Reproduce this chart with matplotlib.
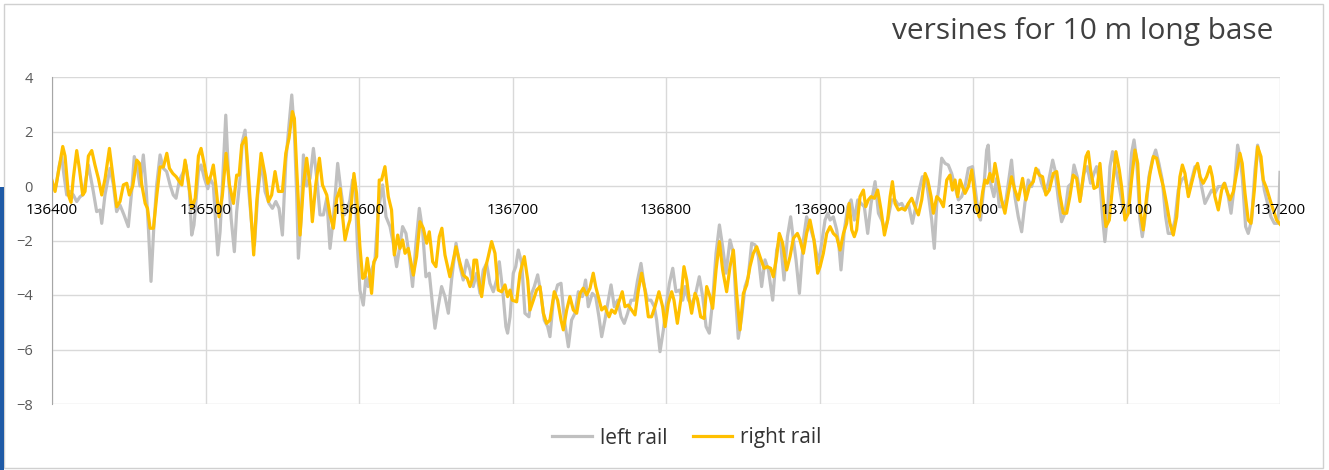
import numpy as np
import matplotlib.pyplot as plt
from matplotlib.patches import Rectangle

plt.rcParams['font.family'] = ['Open Sans', 'DejaVu Sans']

# positions are metres after km 136.000, values are versines in mm
left_pos = [400.0, 402.6, 404.8, 406.3, 407.8, 409.6, 411.7, 413.9, 416.1, 418.2, 420.4, 423.7, 426.9,
            429.1, 431.3, 432.4, 434.5, 437.8, 440.0, 442.1, 444.3, 446.9, 449.7, 451.9, 453.6, 455.6,
            457.3, 459.5, 461.2, 462.8, 464.5, 466.4, 468.2, 470.4, 472.5, 474.7, 476.9, 479.0, 480.8,
            483.0, 485.1, 487.3, 489.5, 491.0, 492.5, 495.4, 497.1, 499.3, 501.5, 503.0, 505.1, 508.0,
            509.5, 511.0, 513.2, 514.9, 516.7, 518.8, 520.3, 522.5, 524.0, 525.8, 527.9, 530.1, 531.9,
            534.0, 536.6, 538.8, 541.4, 543.6, 545.8, 547.9, 550.1, 552.3, 554.4, 556.2, 557.9, 559.4,
            560.5, 562.3, 563.8, 565.9, 568.1, 570.3, 572.5, 574.6, 576.8, 579.0, 581.1, 583.3, 586.1,
            588.3, 590.5, 592.7, 594.1, 595.8, 597.4, 598.9, 600.6, 602.8, 604.5, 606.0, 608.2, 610.4,
            612.6, 615.4, 617.6, 620.2, 622.3, 624.5, 626.2, 628.4, 630.6, 632.8, 634.9, 637.1, 639.3,
            641.4, 643.6, 645.8, 648.0, 649.5, 651.6, 653.8, 656.0, 658.2, 660.3, 663.2, 665.8, 667.9,
            670.1, 672.3, 674.4, 676.6, 678.8, 681.0, 683.1, 685.3, 687.5, 689.6, 691.4, 693.6, 695.7,
            696.8, 698.4, 700.5, 702.1, 703.8, 706.0, 708.1, 710.7, 712.5, 714.2, 716.4, 718.5, 720.7,
            722.9, 724.4, 726.6, 729.4, 731.6, 733.8, 736.4, 738.5, 740.7, 742.9, 745.5, 747.6, 749.4,
            752.0, 754.2, 756.3, 758.1, 760.2, 762.4, 764.2, 766.3, 768.5, 770.7, 772.8, 775.0, 777.2,
            779.4, 781.5, 783.7, 785.9, 788.0, 790.2, 792.4, 793.9, 796.1, 798.3, 800.0, 802.2, 804.4,
            806.5, 808.7, 810.9, 812.4, 814.6, 816.7, 818.9, 821.7, 823.9, 826.1, 828.2, 830.4, 832.6,
            834.8, 836.9, 839.1, 841.7, 843.9, 845.6, 847.1, 849.3, 851.5, 853.6, 855.8, 858.0, 860.2,
            862.3, 864.5, 866.7, 869.5, 872.1, 874.3, 876.9, 879.1, 881.2, 883.0, 884.7, 886.9, 889.5,
            891.6, 893.8, 896.4, 899.3, 901.4, 903.6, 905.4, 906.9, 909.0, 911.2, 912.7, 914.0, 916.2,
            918.4, 920.6, 922.7, 924.9, 927.1, 929.2, 931.4, 933.6, 936.2, 938.4, 940.5, 942.7, 944.9,
            947.0, 949.2, 951.4, 953.6, 955.7, 957.9, 960.5, 962.7, 964.9, 967.0, 969.2, 971.4, 973.1,
            974.8, 976.4, 977.9, 979.6, 981.8, 983.9, 986.1, 988.3, 990.5, 992.6, 994.8, 997.0, 999.7,
            1001.3, 1003.4, 1004.9, 1007.1, 1008.9, 1009.9, 1011.5, 1013.6, 1015.4, 1017.1, 1019.3,
            1021.5, 1023.6, 1025.1, 1027.3, 1029.5, 1031.7, 1033.8, 1036.0, 1038.2, 1040.3, 1042.5,
            1044.7, 1046.9, 1049.0, 1051.9, 1053.4, 1055.5, 1057.7, 1059.9, 1062.1, 1064.2, 1065.8,
            1067.9, 1070.1, 1072.3, 1074.4, 1076.6, 1078.8, 1080.5, 1082.7, 1084.4, 1085.9, 1087.5,
            1089.2, 1090.9, 1093.1, 1095.3, 1097.5, 1099.0, 1101.2, 1103.3, 1104.9, 1106.6, 1108.8,
            1110.3, 1112.5, 1114.6, 1116.8, 1119.0, 1121.1, 1123.3, 1125.5, 1127.2, 1129.4, 1131.6,
            1133.7, 1135.9, 1138.1, 1140.3, 1142.4, 1144.6, 1146.8, 1148.9, 1151.1, 1153.3, 1155.5,
            1157.6, 1159.8, 1162.0, 1164.1, 1166.3, 1168.1, 1170.2, 1172.4, 1173.9, 1175.4, 1177.6,
            1179.3, 1181.5, 1183.7, 1185.4, 1187.6, 1189.8, 1191.9, 1194.1, 1196.3, 1198.5, 1199.3,
            1200.0]
left_val = [-0.1, 0.0, 0.77, 1.08, 0.4, -0.33, -0.2, -0.33, -0.57, -0.4, -0.3, 0.77, -0.2,
            -0.94, -0.88, -1.37, -0.33, 0.65, 0.04, -0.94, -0.7, -1.06, -1.49, -0.2, 1.08, 0.65,
            0.0, 1.14, 0.04, -1.55, -3.5, -1.43, 0.04, 1.14, 0.65, 0.53, 0.04, -0.33, -0.45,
            0.22, 0.46, 0.77, -0.2, -1.8, -1.43, 0.53, 0.77, 0.28, -0.1, 0.28, 0.04, -2.53,
            -1.68, 0.0, 2.6, 0.53, -1.19, -2.41, -0.94, 0.28, 1.63, 2.05, 0.0, -1.43, -2.17,
            -0.33, 0.95, -0.2, -0.64, -0.82, -0.57, -0.82, -1.8, 0.9, 2.24, 3.34, 2.0, -0.33,
            -2.65, -1.19, 1.14, 0.0, 0.28, 1.38, 0.28, -1.06, -1.06, -0.45, -2.29, -1.19, 0.83,
            -0.2, -1.06, -0.82, -0.51, 0.22, 0.1, -2.1, -3.82, -4.37, -3.33, -3.69, -3.08, -2.72,
            -0.88, 0.04, -1.13, -1.49, -2.1, -2.96, -2.35, -1.49, -1.74, -2.59, -3.69, -2.1, -0.82,
            -1.61, -3.33, -3.2, -4.43, -5.22, -4.43, -3.69, -4.06, -4.67, -3.45, -2.1, -2.96, -3.45,
            -2.72, -3.08, -3.69, -3.2, -3.94, -3.08, -2.84, -3.57, -3.88, -3.45, -2.78, -3.82, -5.16,
            -5.4, -4.8, -3.2, -2.96, -2.35, -2.84, -4.67, -4.8, -3.94, -3.69, -3.26, -3.94, -4.92,
            -5.16, -5.53, -4.19, -3.63, -3.57, -4.92, -5.9, -4.92, -4.67, -3.88, -4.06, -3.45, -4.43,
            -3.94, -4.06, -4.8, -5.53, -4.92, -4.19, -3.63, -4.43, -4.19, -4.8, -5.04, -4.67, -4.19,
            -4.19, -3.45, -2.84, -3.69, -4.19, -4.19, -4.43, -4.92, -6.08, -5.28, -4.43, -3.57, -3.02,
            -3.88, -3.82, -4.19, -3.69, -4.19, -4.31, -4.06, -3.33, -4.06, -5.16, -5.4, -4.19, -2.47,
            -1.43, -2.23, -3.2, -1.98, -2.47, -4.31, -5.59, -4.8, -3.69, -3.33, -2.1, -2.16, -2.59,
            -3.69, -2.71, -3.08, -4.19, -2.35, -1.86, -3.45, -1.86, -1.13, -1.98, -2.71, -3.94, -1.98,
            -1.13, -1.49, -1.98, -2.84, -2.1, -1.25, -1.0, -1.25, -1.13, -1.61, -2.23, -3.08, -1.61,
            -0.76, -0.51, -1.25, -0.51, -0.64, -0.76, -1.74, -0.64, 0.16, -1.0, -1.25, -1.61, -1.13,
            -0.51, -0.51, -0.7, -0.64, -0.88, -0.64, -1.37, -0.76, -0.15, 0.34, 0.34, -0.51, -1.25,
            -2.29, -0.64, -0.02, 1.02, 0.83, 0.77, 0.46, -0.02, -0.51, -0.39, -0.02, 0.65, 0.71,
            -0.02, -1.0, -1.25, -0.02, 1.32, 1.5, 0.1, -0.39, 0.28, -0.76, -0.76,
            -0.51, 0.34, 0.95, -0.39, -1.13, -1.68, -0.64, 0.22, -0.02, 0.46, 0.59,
            0.1, -0.21, 0.1, 0.95, 0.59, -0.45, -1.31, -1.0, -0.02, 0.1, 0.77,
            0.34, -0.39, 0.46, 0.71, 0.1, 0.46, 0.71, 0.1, -1.13, -2.04, -1.13,
            0.71, 1.26, 0.59, -0.02, -0.76, -1.13, -0.64, 1.2, 1.69, 0.95, -1.25,
            -1.86, -1.0, 0.34, 0.95, 1.32, 0.83, 0.22, -1.13, -1.74, -1.74, -1.25,
            -0.15, 0.22, 0.34, -0.27, 0.22, 0.71, 0.71, -0.02, -0.64, -0.39, -0.15,
            -0.27, -0.02, -0.02, 0.1, -0.39, -1.0, -0.02, 1.5, 1.08, 0.34, -1.49,
            -1.74, -1.25, 0.59, 1.5, 0.83, -0.15, -0.64, -1.13, -1.37, -1.37, -0.8,
            0.5]

right_pos = [400.0, 402.0, 404.1, 407.0, 408.5, 410.7, 412.4, 413.9, 416.1, 417.8, 420.0, 421.5,
             423.7, 425.9, 428.0, 430.2, 432.4, 434.6, 437.4, 439.6, 442.2, 444.3, 446.5, 448.7,
             450.4, 452.6, 455.2, 457.0, 458.5, 460.7, 462.2, 463.9, 466.1, 468.3, 470.4, 472.6,
             474.8, 476.5, 478.7, 480.9, 483.0, 484.6, 486.7, 488.9, 491.1, 493.3, 495.4, 497.1,
             499.3, 501.5, 503.6, 505.1, 506.7, 508.8, 511.0, 513.4, 515.6, 518.2, 520.3, 521.9,
             523.6, 526.2, 528.4, 530.1, 531.4, 533.4, 536.2, 538.8, 541.0, 543.1, 545.3, 547.5,
             550.1, 552.3, 554.4, 556.6, 557.9, 559.4, 561.6, 563.8, 565.9, 568.1, 569.6, 571.8,
             574.2, 576.2, 579.0, 581.1, 583.3, 585.5, 587.7, 589.2, 590.9, 593.1, 594.1, 596.7,
             598.4, 600.6, 602.4, 603.9, 605.4, 606.7, 608.2, 609.7, 611.5, 613.2, 614.7, 616.9,
             619.1, 621.2, 623.0, 625.2, 626.7, 628.4, 630.0, 632.1, 635.4, 637.5, 639.7, 641.9,
             644.1, 645.8, 648.0, 650.1, 652.3, 654.0, 656.0, 659.2, 661.4, 663.2, 665.3, 667.9,
             670.5, 672.3, 674.0, 674.9, 676.6, 678.4, 679.9, 682.1, 684.2, 686.4, 688.6, 690.7,
             692.9, 695.1, 696.8, 698.4, 699.9, 702.7, 704.9, 707.7, 709.9, 711.4, 713.6, 715.7,
             717.9, 720.1, 722.2, 724.4, 727.2, 729.4, 731.6, 733.1, 735.3, 737.4, 739.6, 741.8,
             744.0, 746.1, 748.3, 750.5, 752.6, 754.2, 755.9, 758.1, 760.2, 762.9, 764.6, 766.8,
             769.0, 771.5, 773.3, 775.4, 777.6, 779.8, 782.0, 784.1, 786.3, 788.5, 790.6, 792.8,
             795.4, 797.8, 799.4, 801.5, 803.7, 805.2, 807.4, 809.6, 811.7, 813.5, 815.2, 816.7,
             818.9, 820.4, 822.6, 824.8, 826.5, 828.7, 830.4, 832.6, 834.8, 836.9, 839.5, 841.7,
             843.9, 846.0, 848.2, 850.4, 852.6, 854.7, 856.9, 859.1, 861.2, 863.9, 866.0, 868.2,
             869.9, 872.1, 873.8, 876.0, 878.6, 880.8, 883.0, 885.6, 887.3, 889.5, 891.6, 893.8,
             896.4, 898.8, 900.4, 902.5, 904.7, 906.9, 909.0, 911.2, 913.4, 915.6, 917.7, 919.3,
             921.0, 922.7, 924.2, 926.4, 928.6, 930.1, 931.8, 933.6, 935.8, 937.9, 940.1, 942.3,
             944.4, 946.0, 947.5, 949.2, 951.4, 953.6, 955.7, 957.9, 960.1, 962.2, 964.4, 966.6,
             968.8, 970.5, 972.7, 974.2, 976.4, 978.5, 980.7, 982.9, 985.0, 986.6, 988.3, 990.0,
             991.6, 993.1, 994.8, 997.0, 999.2, 1001.9, 1004.1, 1006.3, 1007.8, 1009.3, 1011.0,
             1012.8, 1014.3, 1016.5, 1018.6, 1020.8, 1023.0, 1025.1, 1027.3, 1029.5, 1032.3,
             1034.5, 1036.7, 1039.3, 1041.0, 1043.2, 1045.3, 1047.5, 1049.7, 1052.3, 1054.5,
             1056.6, 1058.8, 1061.0, 1063.1, 1065.3, 1067.5, 1069.7, 1071.8, 1073.6, 1075.1,
             1076.6, 1078.8, 1081.0, 1082.7, 1084.4, 1086.6, 1088.8, 1090.9, 1093.1, 1095.3,
             1096.8, 1099.0, 1101.2, 1103.3, 1105.5, 1107.3, 1108.8, 1110.9, 1113.1, 1115.3,
             1117.5, 1119.6, 1121.8, 1124.0, 1126.1, 1128.3, 1130.5, 1132.7, 1134.8, 1136.4,
             1138.1, 1140.3, 1142.4, 1144.6, 1146.3, 1147.9, 1150.0, 1152.2, 1154.4, 1155.9,
             1157.6, 1159.8, 1162.0, 1163.7, 1165.2, 1167.4, 1169.6, 1171.7, 1173.9, 1175.4,
             1177.2, 1179.3, 1181.1, 1183.3, 1185.4, 1187.6, 1189.1, 1191.3, 1193.5, 1195.6,
             1197.8, 1200.0]
right_val = [0.2, -0.2, 0.5, 1.45, 1.1, -0.33, -0.6, 0.3, 1.3, 0.65, -0.33, -0.2,
             1.1, 1.3, 0.77, 0.28, -0.33, 0.28, 1.38, 0.4, -0.76, -0.57, 0.04, 0.1,
             -0.33, 0.0, 0.95, 0.83, 0.04, -0.64, -0.82, -1.55, -1.55, -0.33, 0.7, 0.7,
             1.2, 0.65, 0.46, 0.34, 0.16, 0.04, 0.95, 0.16, -0.82, -0.45, 1.1, 1.38,
             0.77, 0.1, 0.4, 0.77, 0.04, -1.13, -0.33, 1.2, 0.04, -0.64, 0.4, 0.4,
             1.5, 1.77, 0.04, -1.43, -2.53, -0.57, 1.2, 0.4, -0.57, -0.33, 0.53, -0.2,
             -0.2, 1.2, 1.75, 2.73, 2.48, 0.65, -1.8, 0.04, 1.02, 0.0, -1.31, 0.04,
             1.02, 0.04, -0.33, -1.06, -1.55, -0.45, -0.1, -1.06, -1.98, -1.43, -1.25, 0.46,
             -0.27, -2.23, -3.39, -3.33, -2.65, -3.2, -3.94, -2.78, -2.59, 0.22, 0.22, 0.71,
             -0.39, -0.88, -2.53, -1.8, -2.29, -1.98, -2.47, -2.29, -3.27, -2.59, -1.31, -1.55,
             -2.1, -1.68, -2.78, -2.96, -1.86, -1.55, -2.53, -3.33, -2.72, -2.23, -2.72, -3.27,
             -3.39, -3.69, -3.39, -2.72, -2.72, -3.57, -4.06, -3.08, -2.59, -2.04, -2.47, -3.82,
             -3.88, -3.63, -4.06, -3.82, -4.19, -4.25, -3.2, -2.59, -3.45, -4.55, -4.19, -3.82,
             -3.69, -4.67, -5.04, -4.92, -3.88, -4.19, -4.92, -5.28, -4.55, -4.06, -4.55, -4.67,
             -3.94, -3.75, -4.0, -3.75, -3.2, -3.69, -4.06, -4.55, -4.43, -4.8, -4.55, -4.67,
             -4.31, -3.88, -4.43, -4.37, -4.55, -4.73, -3.82, -3.2, -3.82, -4.8, -4.8, -4.43,
             -3.88, -4.43, -5.16, -4.31, -3.88, -4.19, -5.04, -4.19, -2.96, -3.45, -4.19, -4.67,
             -3.94, -4.13, -4.8, -4.86, -3.69, -4.06, -4.49, -3.08, -2.04, -3.08, -3.88, -2.96,
             -2.35, -3.94, -5.28, -3.94, -3.63, -2.96, -2.47, -2.23, -2.59, -3.02, -2.96, -3.02,
             -3.33, -2.59, -1.74, -2.1, -3.08, -2.59, -1.92, -1.74, -1.98, -2.47, -1.74, -1.25,
             -1.98, -3.2, -2.96, -2.47, -1.74, -1.49, -1.74, -1.86, -2.35, -1.74, -1.37, -0.64,
             -1.61, -1.86, -1.61, -0.39, -0.15, -0.76, -0.51, -0.39, -0.45, -0.15, -0.88, -1.8,
             -1.25, -0.39, 0.16, -0.64, -0.88, -0.82, -0.88, -0.64, -0.45, -0.76, -1.06, -0.51,
             0.46, 0.22, -0.39, -1.0, -0.39, -0.51, -0.76, 0.22, 0.4, -0.15, 0.22, -0.39,
             0.22, -0.02, -0.27, -0.02, 0.59, -0.76, -1.13, -0.21, 0.22, 0.1, 0.46,
             0.16, 0.83, 0.16, -0.51, -1.0, -0.27, 0.34, -0.15, -0.51, 0.28,
             -0.51, -0.02, 0.16, 0.65, 0.4, 0.34, -0.33, -0.15, 0.46, 0.53,
             -0.33, -1.0, -1.0, -0.39, 0.4, 0.28, -0.57, 0.34, 1.08, 1.26,
             0.59, -0.09, -0.02, 0.83, -0.27, -1.49, -1.25, -0.02, 1.26, 0.59,
             -0.02, -1.25, -1.0, 0.22, 1.32, 0.83, -0.88, -1.61, -0.39, 0.46,
             1.08, 1.02, 0.46, -0.02, -0.64, -1.37, -1.8, -1.13, 0.34, 0.77,
             0.46, -0.39, 0.1, 0.59, 0.83, 0.34, 0.1, 0.34, 0.71, 0.34,
             -0.39, -0.88, -0.15, 0.1, -0.15, -0.51, -0.21, 0.46, 1.2, 0.83,
             -0.27, -1.25, -1.37, -0.15, 1.44, 1.08, 0.22, -0.09, -0.51, -0.88,
             -1.25, -1.4]

x_ticks = [136400, 136500, 136600, 136700, 136800, 136900, 137000, 137100, 137200]
y_ticks = [-8, -6, -4, -2, 0, 2, 4]

left_km = 136000 + np.array(left_pos)
right_km = 136000 + np.array(right_pos)

fig = plt.figure(figsize=(13.29, 4.70), dpi=100)
ax = fig.add_axes([52 / 1329, 66 / 470, 1228 / 1329, 327 / 470])

# gridlines sit under the series, tick labels go over them
for xt in x_ticks:
    ax.axvline(xt, color='#d9d9d9', lw=1, zorder=0.5)
for yt in y_ticks:
    ax.axhline(yt, color='#d9d9d9', lw=1, zorder=0.5)

ax.plot(left_km, left_val, color='#c0c0c0', lw=2.3, solid_joinstyle='round', zorder=2,
        label='left rail')
ax.plot(right_km, right_val, color='#ffc000', lw=2.3, solid_joinstyle='round', zorder=2,
        label='right rail')

ax.set_xlim(136400, 137200)
ax.set_ylim(-8, 4)
ax.set_xticks(x_ticks)
ax.set_yticks(y_ticks)
ax.set_axisbelow(False)

# horizontal axis crosses at zero, labels hang just below it
ax.spines['bottom'].set_position(('data', 0))
ax.spines['bottom'].set_visible(False)
ax.spines['top'].set_visible(False)
ax.spines['right'].set_visible(False)
ax.spines['left'].set_color('#a6a6a6')
ax.tick_params(axis='x', length=0, pad=12, labelsize=11, labelcolor='#000000')
ax.tick_params(axis='y', length=0, pad=14, labelsize=10.5, labelcolor='#595959')

fig.text(1273 / 1329, 1 - 31 / 470, 'versines for 10 m long base', ha='right', va='center',
         fontsize=21.5, color='#404040')

fig.legend(loc='center', bbox_to_anchor=(687 / 1329, 1 - 438 / 470), ncol=2, frameon=False,
           fontsize=15, handlelength=1.9, handletextpad=0.4, columnspacing=1.2,
           labelcolor='#333333')

# chart frame and the blue strip on the left edge
fig.patches.append(Rectangle((4 / 1329, 2 / 470), 1319 / 1329, 464 / 470, transform=fig.transFigure,
                             fill=False, edgecolor='#d0d0d0', lw=1))
fig.patches.append(Rectangle((0, 0), 4 / 1329, 283 / 470, transform=fig.transFigure,
                             facecolor='#1f5aa6', edgecolor='none'))

fig.savefig('out.png', dpi=100)
